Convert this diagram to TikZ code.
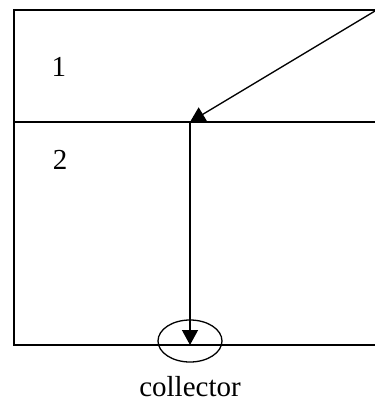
\documentclass[tikz,border=0pt]{standalone}
\usepackage{fontspec}
\setmainfont{Liberation Serif}
\usetikzlibrary{arrows.meta,shapes.geometric}
\begin{document}
\begin{tikzpicture}[x=1pt,y=-1pt,
  wall/.style={line width=1.3pt},
  flow/.style={line width=1.3pt,-{Triangle[length=15pt,width=16pt]}},
  lbl/.style={font=\fontsize{29}{33}\selectfont,inner sep=0pt},
  ring/.style={draw,ellipse,line width=1.3pt,minimum width=64pt,minimum height=42pt,inner sep=0pt}]
\useasboundingbox (0,0) rectangle (375,408);
\coordinate (tl) at (14,10);
\coordinate (tr) at (376,10);
\coordinate (ml) at (14,122);
\coordinate (mr) at (376,122);
\coordinate (bl) at (14,345);
\coordinate (br) at (376,345);
\coordinate (src) at (375,11);
\coordinate (jn) at (190,122);
\coordinate (out) at (190,345);
\draw[wall] (tr) -- (tl) -- (bl) -- (br);
\draw[wall] (ml) -- (mr);
\draw[flow] (src) -- (jn);
\draw[flow] (jn) -- (out);
\node[ring] (col) at (190,341) {};
\node[lbl] (one) at (59,67) {1};
\node[lbl] (two) at (60,160) {2};
\node[lbl] (colt) at (190,387) {collector};
\end{tikzpicture}
\end{document}
